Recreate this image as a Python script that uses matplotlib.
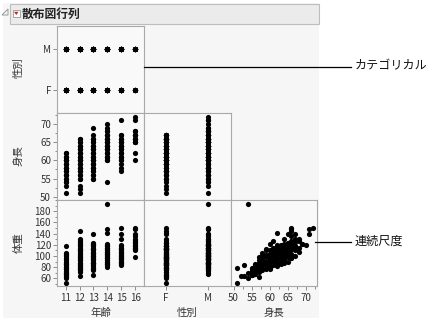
import matplotlib
matplotlib.use("Agg")
import matplotlib.pyplot as plt
from matplotlib.patches import Rectangle, Polygon
from matplotlib.ticker import FixedLocator, MultipleLocator

plt.rcParams['font.family'] = ['Noto Sans CJK JP', 'DejaVu Sans']

# ---- data: one record per student, grouped by age ----
SEX_11 = ["F", "F", "F", "M", "F", "M", "F", "M", "F", "M", "F", "M",
          "F", "M", "F", "M", "F", "M", "F", "M", "M", "F", "M", "F",
          "M", "F", "M", "F"]
HEIGHT_11 = [51, 53, 54, 54, 55, 55, 56, 56, 57, 57, 58, 58,
             59, 59, 60, 60, 61, 61, 62, 62, 56, 58, 60, 57,
             58, 59, 61, 60]
WEIGHT_11 = [51, 64, 61, 70, 66, 73, 68, 77, 72, 81, 78, 86,
             84, 90, 88, 95, 92, 101, 117, 105, 68, 97, 80, 62,
             100, 76, 85, 104]

SEX_12 = ["M", "F", "M", "F", "M", "F", "M", "F", "M", "F", "M", "F", "M", "F", "M",
          "F", "M", "F", "M", "F", "M", "F", "M", "F", "M", "F", "M", "F", "M", "F",
          "M", "F", "M", "F", "M", "F", "M"]
HEIGHT_12 = [51, 52, 53, 55, 55, 56, 56, 57, 57, 58, 58, 59, 59, 60, 60,
             61, 61, 62, 62, 63, 63, 64, 64, 65, 65, 66, 66, 60, 58, 62,
             60, 61, 63, 57, 64, 59, 62]
WEIGHT_12 = [79, 64, 84, 72, 78, 75, 85, 81, 92, 88, 97, 84, 102, 93, 110,
             99, 115, 106, 120, 112, 104, 130, 118, 124, 109, 145, 127, 76, 74, 95,
             122, 126, 88, 98, 100, 110, 82]

SEX_13 = ["F", "M", "F", "M", "F", "M", "F", "M", "F", "M", "F", "M", "F", "M",
          "F", "M", "F", "M", "F", "M", "F", "M", "F", "M", "F", "M", "F", "M",
          "F", "M", "F", "M", "F", "M", "F"]
HEIGHT_13 = [55, 55, 56, 56, 57, 57, 58, 58, 59, 59, 60, 60, 61, 61,
             62, 62, 63, 63, 64, 64, 65, 65, 66, 66, 67, 69, 61, 60,
             59, 58, 62, 64, 63, 66, 60]
WEIGHT_13 = [66, 76, 79, 82, 75, 88, 84, 93, 90, 99, 95, 104, 88, 110,
             101, 115, 107, 96, 112, 121, 118, 106, 124, 113, 140, 122, 100, 87,
             112, 106, 86, 94, 120, 100, 78]

SEX_14 = ["M", "F", "M", "F", "M", "F", "M", "F", "M", "F", "M", "F", "M",
          "F", "M", "F", "M", "M", "M", "M", "F", "M", "F", "M", "F", "M",
          "F", "M", "F", "M", "F", "M"]
HEIGHT_14 = [54, 60, 60, 61, 61, 62, 62, 63, 63, 64, 64, 65, 65,
             66, 66, 67, 67, 68, 69, 70, 62, 64, 63, 65, 66, 68,
             63, 65, 67, 61, 64, 66]
WEIGHT_14 = [193, 81, 86, 84, 92, 142, 89, 96, 101, 92, 106, 99, 112,
             104, 148, 110, 117, 114, 121, 120, 87, 97, 108, 103, 115, 107,
             85, 90, 100, 110, 118, 96]

SEX_15 = ["F", "M", "F", "M", "F", "M", "F", "M", "F", "M", "F", "M",
          "F", "M", "F", "F", "M", "M", "F", "M", "F", "M", "F",
          "M", "F", "M", "F", "M"]
HEIGHT_15 = [57, 58, 59, 60, 61, 61, 62, 62, 63, 63, 64, 64,
             65, 65, 66, 66, 67, 71, 60, 63, 64, 65, 67,
             64, 66, 62, 61, 65]
WEIGHT_15 = [84, 88, 86, 95, 91, 100, 97, 105, 102, 110, 107, 115,
             112, 120, 117, 150, 130, 140, 89, 94, 99, 108, 113,
             88, 96, 115, 104, 100]

SEX_16 = ["F", "F", "M", "F", "M", "F", "M", "F", "M", "M", "M", "M", "F", "M", "M",
          "F", "M"]
HEIGHT_16 = [60, 62, 65, 65, 66, 66, 67, 67, 68, 68, 71, 72, 65, 66, 67,
             66, 67]
WEIGHT_16 = [98, 111, 140, 115, 120, 118, 125, 114, 126, 131, 148, 150, 123, 135, 129,
             112, 118]

AGES = [11, 12, 13, 14, 15, 16]
GROUPS = [(SEX_11, HEIGHT_11, WEIGHT_11), (SEX_12, HEIGHT_12, WEIGHT_12),
          (SEX_13, HEIGHT_13, WEIGHT_13), (SEX_14, HEIGHT_14, WEIGHT_14),
          (SEX_15, HEIGHT_15, WEIGHT_15), (SEX_16, HEIGHT_16, WEIGHT_16)]

age, sex, height, weight = [], [], [], []
for a, (s, h, w) in zip(AGES, GROUPS):
    age += [a] * len(s)
    sex += s
    height += h
    weight += w

SEX_ORDER = ["F", "M"]
sex_pos = [SEX_ORDER.index(s) for s in sex]

# ---- figure ----
W, H = 434, 321
fig = plt.figure(figsize=(W / 100, H / 100), dpi=100)
fig.patch.set_facecolor("white")

BG = "#f6f6f6"
FRAME = "#a9a9a9"
TXT = "#333333"


def px_rect(x0, y0, x1, y1, **kw):
    r = Rectangle((x0 / W, 1 - y1 / H), (x1 - x0) / W, (y1 - y0) / H,
                  transform=fig.transFigure, **kw)
    fig.patches.append(r)
    return r


def px_poly(pts, **kw):
    p = Polygon([(x / W, 1 - y / H) for x, y in pts], closed=True,
                transform=fig.transFigure, **kw)
    fig.patches.append(p)
    return p


# report background and header bar
px_rect(3, 3, 319, 318, facecolor=BG, edgecolor="none", zorder=-5)
px_rect(10, 4, 319, 24, facecolor="#ebebeb", edgecolor="#bdbdbd", lw=0.8, zorder=1)
px_poly([(2, 15), (8, 9), (8, 15)], facecolor="none", edgecolor="#9a9a9a", lw=0.7, zorder=2)
px_rect(12.5, 9.5, 20, 17, facecolor="white", edgecolor="#9a9a9a", lw=0.6, zorder=2)
px_poly([(14, 11.8), (18.5, 11.8), (16.25, 15)], facecolor="#d02020", edgecolor="none", zorder=3)
fig.text(22 / W, 1 - 14 / H, "散布図行列", fontsize=8.5, fontweight="bold",
         color="#222222", ha="left", va="center")

XE = [57.3, 143.5, 230.7, 317.0]
YE = [26.0, 112.8, 199.6, 286.4]

AGE_LIM = (10.4, 16.6)
SEX_LIM = (-0.54, 1.54)
HEIGHT_LIM = (49.2, 73.1)
WEIGHT_LIM = (45.5, 201)

DOT = dict(s=14, color="black", linewidths=0, zorder=3)


def make_ax(col, row):
    ax = fig.add_axes([XE[col] / W, 1 - YE[row + 1] / H,
                       (XE[col + 1] - XE[col]) / W, (YE[row + 1] - YE[row]) / H])
    ax.set_facecolor("#f9f9f9")
    for sp in ax.spines.values():
        sp.set_color(FRAME)
        sp.set_linewidth(0.8)
    ax.tick_params(which="both", direction="out", color="#7a7a7a", width=0.6,
                   labelsize=7, labelcolor=TXT, pad=1.5)
    ax.tick_params(which="major", length=3)
    ax.tick_params(which="minor", length=1.8)
    return ax


def set_x(ax, kind):
    if kind == "age":
        ax.set_xlim(*AGE_LIM)
        ax.xaxis.set_major_locator(FixedLocator(AGES))
    elif kind == "sex":
        ax.set_xlim(*SEX_LIM)
        ax.set_xticks(range(len(SEX_ORDER)), SEX_ORDER)
    elif kind == "height":
        ax.set_xlim(*HEIGHT_LIM)
        ax.xaxis.set_major_locator(FixedLocator([50, 55, 60, 65, 70]))
        ax.xaxis.set_minor_locator(MultipleLocator(2.5))


def set_y(ax, kind):
    if kind == "sex":
        ax.set_ylim(*SEX_LIM)
        ax.set_yticks(range(len(SEX_ORDER)), SEX_ORDER)
    elif kind == "height":
        ax.set_ylim(*HEIGHT_LIM)
        ax.yaxis.set_major_locator(FixedLocator([50, 55, 60, 65, 70]))
        ax.yaxis.set_minor_locator(MultipleLocator(2.5))
    elif kind == "weight":
        ax.set_ylim(*WEIGHT_LIM)
        ax.yaxis.set_major_locator(FixedLocator([60, 80, 100, 120, 140, 160, 180]))
        ax.yaxis.set_minor_locator(MultipleLocator(10))


VALUES = {"age": age, "sex": sex_pos, "height": height, "weight": weight}
COLS = ["age", "sex", "height"]
ROWS = ["sex", "height", "weight"]

for r, yk in enumerate(ROWS):
    for c, xk in enumerate(COLS[:r + 1]):
        ax = make_ax(c, r)
        ax.scatter(VALUES[xk], VALUES[yk], **DOT)
        set_x(ax, xk)
        set_y(ax, yk)
        ax.tick_params(which="both", top=False, right=False)
        if r != 2:
            ax.tick_params(which="both", bottom=False, labelbottom=False)
        if c != 0:
            ax.tick_params(which="both", left=False, labelleft=False)

# variable names
for label, yc in zip(["性別", "身長", "体重"], [68, 156, 243]):
    fig.text(19 / W, 1 - yc / H, label, rotation=90, fontsize=7.5, color=TXT,
             ha="center", va="center")
for label, xc in zip(["年齢", "性別", "身長"], [100.5, 187, 274]):
    fig.text(xc / W, 1 - 313 / H, label, fontsize=7.5, color=TXT,
             ha="center", va="center")

# callouts
fig.add_artist(plt.Line2D([143.5 / W, 351 / W], [1 - 67 / H, 1 - 67 / H],
                          transform=fig.transFigure, color="black", lw=0.9))
fig.text(355 / W, 1 - 66 / H, "カテゴリカル", fontsize=8.7, color="#111111",
         ha="left", va="center")
fig.add_artist(plt.Line2D([315 / W, 351 / W], [1 - 242 / H, 1 - 242 / H],
                          transform=fig.transFigure, color="black", lw=0.9))
fig.text(355 / W, 1 - 241 / H, "連続尺度", fontsize=8.7, color="#111111",
         ha="left", va="center")

fig.savefig("out.png", dpi=100, facecolor="white")
